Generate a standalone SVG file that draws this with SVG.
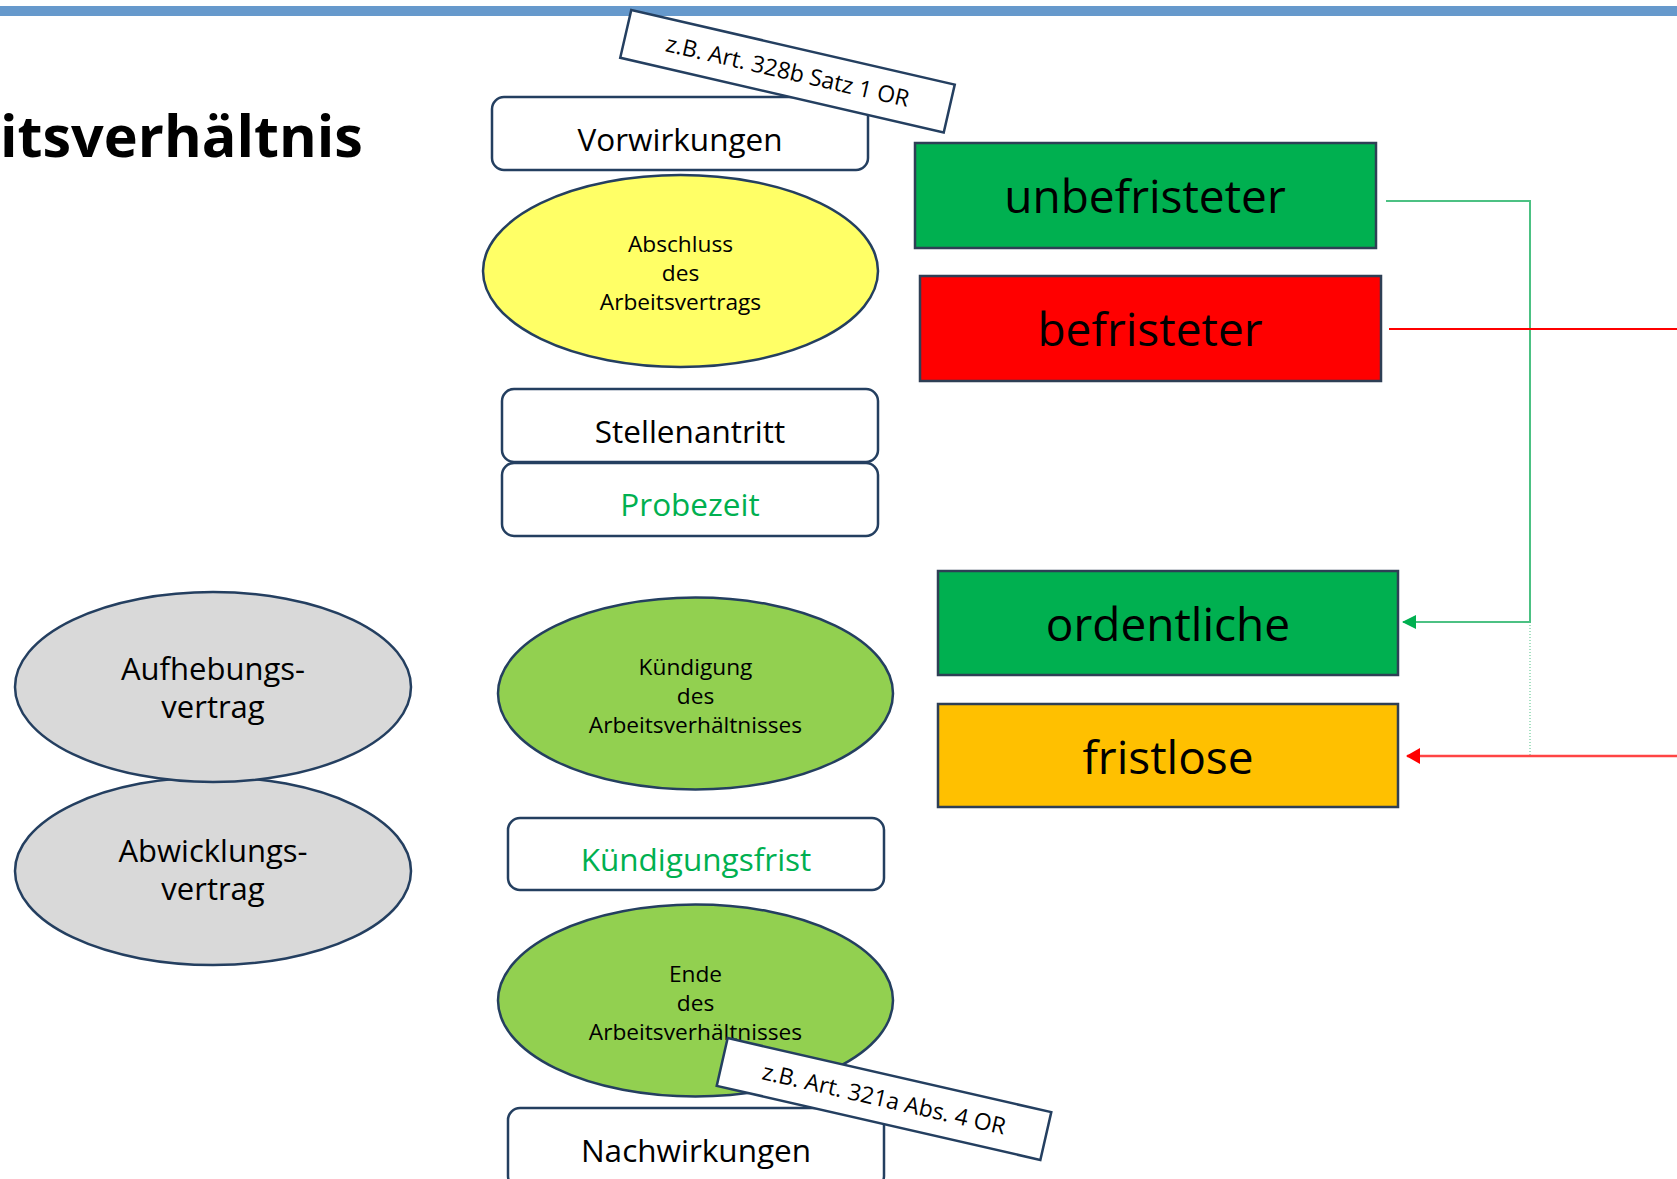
<svg xmlns="http://www.w3.org/2000/svg" width="1677" height="1179" viewBox="0 0 1677 1179">
<style>
  text { font-family: "Open Sans", "Noto Sans", "Liberation Sans", sans-serif; fill: #000; text-anchor: middle; }
  .box { fill: #fff; stroke: #243F60; stroke-width: 2.5; }
  .ell { stroke: #243F60; stroke-width: 2.5; }
  .sq { stroke: #2E3F55; stroke-width: 2.5; }
  .bt { font-size: 31.5px; }
  .et { font-size: 22.7px; }
  .big { font-size: 46px; }
  .gt { font-size: 31px; }
  .lab { font-size: 23px; }
  .green { fill: #00B050; }
</style>
<defs>
  <marker id="ag" viewBox="0 0 14 14" refX="13" refY="7" markerWidth="14" markerHeight="14" markerUnits="userSpaceOnUse" orient="auto">
    <path d="M0,0 L14,7 L0,14 z" fill="#00B050"/>
  </marker>
  <marker id="ar" viewBox="0 0 14 16" refX="13" refY="8" markerWidth="14" markerHeight="16" markerUnits="userSpaceOnUse" orient="auto">
    <path d="M0,0 L14,8 L0,16 z" fill="#FF0000"/>
  </marker>
</defs>
<rect x="0" y="0" width="1677" height="1179" fill="#fff"/>
<rect x="0" y="6" width="1677" height="10" fill="#6699CC"/>
<text x="0" y="157" style="text-anchor:start;font-weight:bold;font-size:57.5px;">itsverhältnis</text>

<g id="connectors" fill="none">
  <polyline points="1386,201 1530,201 1530,622 1403,622" stroke="#4CC183" stroke-width="2" marker-end="url(#ag)"/>
  <line x1="1530" y1="622" x2="1530" y2="755" stroke="#4CC183" stroke-width="1" stroke-dasharray="1,2"/>
  <line x1="1389" y1="329" x2="1677" y2="329" stroke="#FF0000" stroke-width="2"/>
  <line x1="1677" y1="756" x2="1407" y2="756" stroke="#FF4444" stroke-width="2.5" marker-end="url(#ar)"/>
</g>

<g id="vorwirkungen">
  <rect class="box" x="492" y="97" width="376" height="73" rx="12"/>
  <text class="bt" x="680" y="151">Vorwirkungen</text>
</g>
<g id="label-328b" transform="translate(787.5,71.2) rotate(13)">
  <rect class="box" x="-166" y="-24.5" width="332" height="49"/>
  <text class="lab" x="0" y="8">z.B. Art. 328b Satz 1 OR</text>
</g>
<g id="abschluss">
  <ellipse class="ell" cx="680.5" cy="271" rx="197.5" ry="96" fill="#FFFF66"/>
  <text class="et" x="680.5" y="252">Abschluss</text>
  <text class="et" x="680.5" y="281">des</text>
  <text class="et" x="680.5" y="310">Arbeitsvertrags</text>
</g>
<g id="stellenantritt">
  <rect class="box" x="502" y="389" width="376" height="73" rx="12"/>
  <text class="bt" x="690" y="443">Stellenantritt</text>
</g>
<g id="probezeit">
  <rect class="box" x="502" y="463" width="376" height="73" rx="12"/>
  <text class="bt green" x="690" y="516">Probezeit</text>
</g>
<g id="kuendigung">
  <ellipse class="ell" cx="695.5" cy="693.5" rx="197.5" ry="96" fill="#92D050"/>
  <text class="et" x="695.5" y="675">Kündigung</text>
  <text class="et" x="695.5" y="704">des</text>
  <text class="et" x="695.5" y="733">Arbeitsverhältnisses</text>
</g>
<g id="kuendigungsfrist">
  <rect class="box" x="508" y="818" width="376" height="72" rx="12"/>
  <text class="bt green" x="696" y="871">Kündigungsfrist</text>
</g>
<g id="ende">
  <ellipse class="ell" cx="695.5" cy="1000.5" rx="197.5" ry="96" fill="#92D050"/>
  <text class="et" x="695.5" y="982">Ende</text>
  <text class="et" x="695.5" y="1011">des</text>
  <text class="et" x="695.5" y="1040">Arbeitsverhältnisses</text>
</g>
<g id="nachwirkungen">
  <rect class="box" x="508" y="1108" width="376" height="80" rx="12"/>
  <text class="bt" x="696" y="1162">Nachwirkungen</text>
</g>
<g id="label-321a" transform="translate(884,1099) rotate(12.9)">
  <rect class="box" x="-166" y="-24.5" width="332" height="49"/>
  <text class="lab" x="0" y="8">z.B. Art. 321a Abs. 4 OR</text>
</g>
<g id="abwicklungsvertrag">
  <ellipse class="ell" cx="213" cy="871" rx="198" ry="94" fill="#D9D9D9"/>
  <text class="gt" x="213" y="862">Abwicklungs-</text>
  <text class="gt" x="213" y="900">vertrag</text>
</g>
<g id="aufhebungsvertrag">
  <ellipse class="ell" cx="213" cy="687" rx="198" ry="95" fill="#D9D9D9"/>
  <text class="gt" x="213" y="680">Aufhebungs-</text>
  <text class="gt" x="213" y="718">vertrag</text>
</g>
<g id="unbefristeter">
  <rect class="sq" x="915" y="143" width="461" height="105" fill="#00B050"/>
  <text class="big" x="1145" y="213">unbefristeter</text>
</g>
<g id="befristeter">
  <rect class="sq" x="920" y="276" width="461" height="105" fill="#FF0000"/>
  <text class="big" x="1150" y="346">befristeter</text>
</g>
<g id="ordentliche">
  <rect class="sq" x="938" y="571" width="460" height="104" fill="#00B050"/>
  <text class="big" x="1168" y="641">ordentliche</text>
</g>
<g id="fristlose">
  <rect class="sq" x="938" y="704" width="460" height="103" fill="#FFC000"/>
  <text class="big" x="1168" y="774">fristlose</text>
</g>
</svg>
